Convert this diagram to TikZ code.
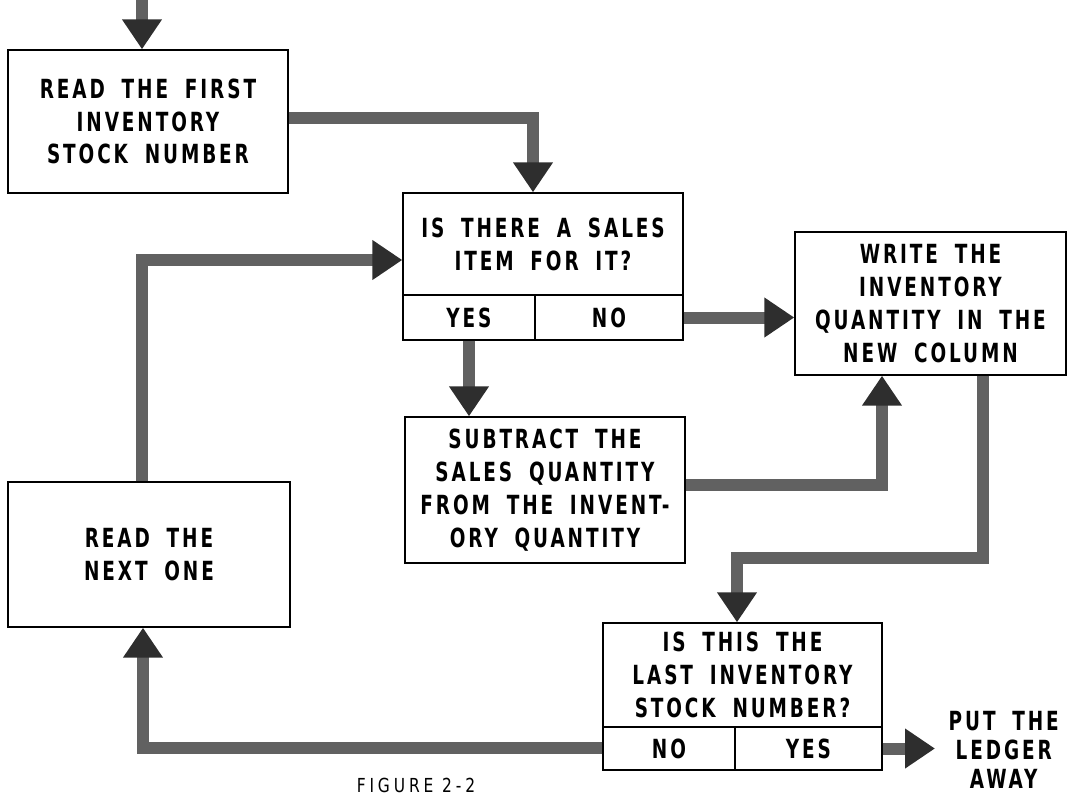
\documentclass[tikz,border=0pt]{standalone}
\usepackage{fontspec}
\newfontfamily\lettering{DejaVu Sans}[FakeStretch=0.7, LetterSpace=11, WordSpace=1.8]
\newfontfamily\captionfont{DejaVu Sans}[FakeStretch=0.8, LetterSpace=20]
\usetikzlibrary{arrows.meta}

\tikzset{
	box/.style={draw, line width=0.8pt, inner sep=0pt, align=center, font=\lettering\bfseries\fontsize{15}{18.7}\selectfont},
	flow/.style={line width=0.24cm, black!62, -{Triangle[width=0.76cm, length=0.6cm, color=black!82]}},
}

\begin{document}
\begin{tikzpicture}[x=0.02cm, y=-0.02cm]
	\useasboundingbox (0,0) rectangle (1069,796);

	\node[box, minimum width=5.6cm, minimum height=2.86cm] (first) at (148,121.5){READ THE FIRST\\INVENTORY\\STOCK NUMBER};

	\node[box, minimum width=5.6cm, minimum height=2.04cm] (sales) at (543,244){IS THERE A SALES\\ITEM FOR IT?};
	\node[box, minimum width=2.64cm, minimum height=0.9cm] (salesyes) at (469,317.5){YES};
	\node[box, minimum width=2.96cm, minimum height=0.9cm] (salesno) at (609,317.5){NO};

	\node[box, minimum width=5.42cm, minimum height=2.86cm] (write) at (930.5,303.5){WRITE THE\\INVENTORY\\QUANTITY IN THE\\NEW COLUMN};

	\node[box, minimum width=5.6cm, minimum height=2.92cm] (sub) at (545,490){SUBTRACT THE\\SALES QUANTITY\\FROM THE INVENT-\\ORY QUANTITY};

	\node[box, minimum width=5.64cm, minimum height=2.9cm] (next) at (149,554.5){READ THE\\NEXT ONE};

	\node[box, minimum width=5.58cm, minimum height=2.08cm] (last) at (742.5,675){IS THIS THE\\LAST INVENTORY\\STOCK NUMBER?};
	\node[box, minimum width=2.64cm, minimum height=0.86cm] (lastno) at (669,748.5){NO};
	\node[box, minimum width=2.94cm, minimum height=0.86cm] (lastyes) at (808.5,748.5){YES};

	\node[box, draw=none, anchor=west, inner xsep=0.26cm, font=\lettering\bfseries\fontsize{15}{16.5}\selectfont] (ledger) at (935,750){PUT THE\\LEDGER\\AWAY};

	\node[font=\captionfont\fontsize{11}{12}\selectfont] (fig) at (416,785){FIGURE 2-2};

	% bends of the long connectors
	\coordinate (start) at (142,0);
	\coordinate (over) at (533,118);
	\coordinate (back) at (142,260);
	\coordinate (up) at (882,485);
	\coordinate (down) at (983,558);
	\coordinate (turn) at (737,558);
	\coordinate (loop) at (143,748);

	\draw[flow] (start) -- (first.north -| start);
	\draw[flow] (first.east |- over) -| (sales.north -| over);
	\draw[flow] (next.north -| back) |- (sales.west |- back);
	\draw[flow] (salesno.east) -- (write.west |- salesno.east);
	\draw[flow] (salesyes.south) -- (sub.north -| salesyes.south);
	\draw[flow] (sub.east |- up) -| (write.south -| up);
	\draw[flow] (write.south -| down) -- (down) -| (last.north -| turn);
	\draw[flow] (lastno.west |- loop) -| (next.south -| loop);
	\draw[flow] (lastyes.east) -- (ledger.west |- lastyes.east);
\end{tikzpicture}
\end{document}
